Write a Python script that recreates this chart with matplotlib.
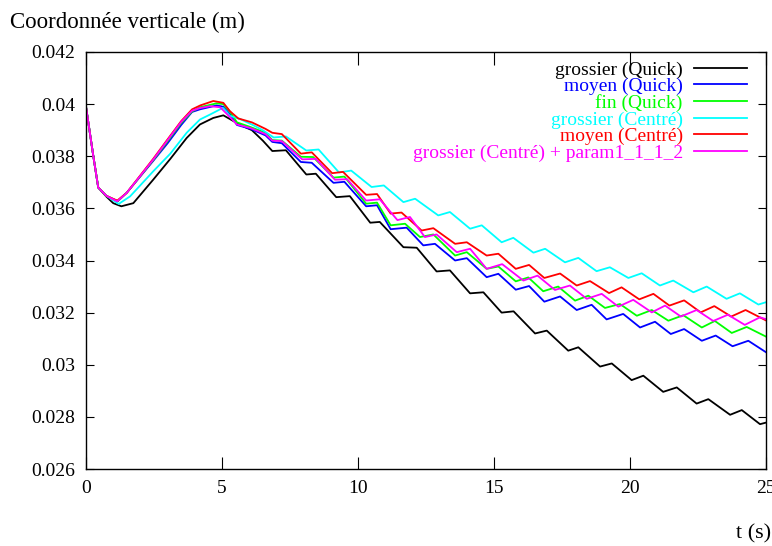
import matplotlib
matplotlib.use("Agg")
import matplotlib.pyplot as plt
from matplotlib.ticker import FormatStrFormatter

plt.rcParams['font.family'] = ['Liberation Serif', 'DejaVu Serif']

# temps (s) / coordonnee verticale (m)
t_black = [0, 0.27, 0.45, 0.75, 1.0, 1.3, 1.74, 2.47, 3.1, 3.7, 4.19, 4.68, 5.05, 5.42, 5.78,
           6.1, 6.5, 6.85, 7.35, 8.1, 8.45, 9.2, 9.7, 10.45, 10.8, 11.67, 12.16, 12.89, 13.38,
           14.12, 14.61, 15.28, 15.72, 16.51, 16.94, 17.73, 18.1, 18.9, 19.33, 20.06, 20.49,
           21.22, 21.72, 22.45, 22.88, 23.68, 24.11, 24.78, 25.0]
v_black = [0.0399, 0.0380, 0.0368, 0.03645, 0.0362, 0.03608, 0.0362, 0.0371, 0.0379, 0.0387,
           0.03922, 0.03947, 0.03957, 0.03935, 0.03915, 0.0390, 0.0386, 0.0382, 0.03823, 0.0373,
           0.03733, 0.03643, 0.03647, 0.03545, 0.03548, 0.03451, 0.03449, 0.03358, 0.03362,
           0.03274, 0.03278, 0.0320, 0.03205, 0.0312, 0.03131, 0.03054, 0.03067, 0.02993, 0.03005,
           0.02941, 0.02958, 0.02896, 0.02913, 0.02851, 0.02868, 0.02808, 0.02826, 0.02772, 0.02778]

t_blue = [0, 0.27, 0.45, 0.75, 1.16, 1.5, 2.47, 3.0, 3.5, 3.9, 4.19, 4.8, 5.05, 5.3, 5.55, 6.05,
          6.6, 6.85, 7.2, 7.9, 8.3, 9.1, 9.5, 10.3, 10.7, 11.2, 11.79, 12.4, 12.83, 13.57, 14.0,
          14.73, 15.16, 15.8, 16.29, 16.85, 17.43, 18.04, 18.59, 19.14, 19.75, 20.37, 20.92,
          21.5, 21.99, 22.64, 23.15, 23.77, 24.35, 25.0]
v_blue = [0.0399, 0.0380, 0.0368, 0.03648, 0.03627, 0.0366, 0.03782, 0.0385, 0.0392, 0.0397,
          0.0398, 0.03995, 0.0399, 0.0396, 0.0392, 0.03905, 0.0388, 0.03855, 0.0385, 0.03778,
          0.03775, 0.03698, 0.03702, 0.03608, 0.03612, 0.0352, 0.03526, 0.03458, 0.03464, 0.0340,
          0.03409, 0.03336, 0.03349, 0.03288, 0.03302, 0.03242, 0.03262, 0.0321, 0.0323, 0.03174,
          0.03195, 0.03143, 0.03165, 0.03118, 0.03137, 0.03092, 0.03112, 0.03071, 0.03092, 0.03048]

t_green = [0, 0.27, 0.45, 0.75, 1.16, 1.5, 2.47, 3.0, 3.5, 3.9, 4.19, 4.8, 5.05, 5.3, 5.55, 6.05,
           6.6, 6.85, 7.2, 7.9, 8.35, 9.1, 9.5, 10.3, 10.7, 11.2, 11.73, 12.28, 12.77, 13.57, 14.0,
           14.73, 15.16, 15.8, 16.26, 16.81, 17.36, 17.98, 18.47, 19.08, 19.63, 20.25, 20.8,
           21.41, 21.96, 22.64, 23.12, 23.74, 24.29, 25.0]
v_green = [0.0399, 0.0380, 0.0368, 0.03648, 0.03627, 0.0366, 0.03785, 0.03858, 0.03928, 0.03972,
           0.03988, 0.04003, 0.04, 0.0397, 0.0393, 0.03912, 0.0389, 0.03862, 0.0386, 0.03798,
           0.03797, 0.03718, 0.03722, 0.03618, 0.03622, 0.03535, 0.03541, 0.0349, 0.035, 0.03419,
           0.03432, 0.03368, 0.03377, 0.0332, 0.03335, 0.03282, 0.033, 0.03246, 0.03265, 0.03218,
           0.03233, 0.03188, 0.0321, 0.03169, 0.0319, 0.03143, 0.03168, 0.03122, 0.03145, 0.03108]

t_cyan = [0, 0.27, 0.45, 0.75, 1.2, 1.62, 2.47, 3.1, 3.7, 4.19, 4.56, 4.93, 5.05, 5.29, 5.66,
          6.15, 6.5, 6.9, 7.35, 8.1, 8.55, 9.3, 9.75, 10.5, 10.95, 11.67, 12.1, 12.95, 13.38,
          14.12, 14.55, 15.28, 15.71, 16.45, 16.88, 17.61, 18.1, 18.77, 19.26, 19.94, 20.43,
          21.1, 21.59, 22.33, 22.82, 23.55, 24.04, 24.72, 25.0]
v_cyan = [0.0399, 0.0380, 0.0368, 0.03648, 0.03617, 0.03646, 0.03742, 0.0381, 0.0389, 0.03941,
          0.0396, 0.0398, 0.03985, 0.03955, 0.03943, 0.03919, 0.039, 0.03872, 0.03876, 0.03822,
          0.03826, 0.03738, 0.03745, 0.03682, 0.03688, 0.03624, 0.03637, 0.03573, 0.03586,
          0.03522, 0.03535, 0.0347, 0.03487, 0.0343, 0.03445, 0.03393, 0.0341, 0.03359, 0.03374,
          0.03333, 0.03351, 0.03304, 0.03323, 0.03278, 0.033, 0.03253, 0.03274, 0.03231, 0.0324]

t_red = [0, 0.27, 0.45, 0.75, 1.15, 1.5, 2.47, 3.0, 3.5, 3.9, 4.2, 4.68, 5.05, 5.29, 5.6, 6.1,
         6.6, 6.85, 7.2, 7.9, 8.3, 9.05, 9.45, 10.3, 10.7, 11.2, 11.6, 12.34, 12.77, 13.57, 14.0,
         14.73, 15.16, 15.8, 16.29, 16.85, 17.43, 18.04, 18.53, 19.23, 19.69, 20.34, 20.86,
         21.45, 21.99, 22.6, 23.1, 23.72, 24.25, 25.0]
v_red = [0.0399, 0.0380, 0.0368, 0.03648, 0.0363, 0.0366, 0.0379, 0.03865, 0.03935, 0.0398,
         0.03995, 0.04012, 0.04005, 0.03973, 0.03945, 0.0393, 0.03905, 0.0389, 0.03885, 0.0381,
         0.03815, 0.03735, 0.0374, 0.03652, 0.03655, 0.0358, 0.03584, 0.03515, 0.03524, 0.03464,
         0.0347, 0.03419, 0.03426, 0.03368, 0.03383, 0.03333, 0.0335, 0.03304, 0.03321, 0.03275,
         0.03297, 0.03251, 0.03272, 0.03227, 0.03247, 0.03201, 0.03225, 0.03185, 0.0321, 0.0317]

t_mag = [0, 0.27, 0.45, 0.75, 1.15, 1.5, 2.47, 3.0, 3.5, 3.9, 4.19, 4.56, 4.93, 5.2, 5.55, 6.05,
         6.6, 6.85, 7.2, 7.95, 8.45, 9.15, 9.6, 10.3, 10.8, 11.45, 11.91, 12.46, 12.89, 13.63,
         14.12, 14.73, 15.3, 16.08, 16.6, 17.24, 17.79, 18.41, 18.96, 19.57, 20.12, 20.8, 21.29,
         21.87, 22.45, 23.06, 23.6, 24.22, 24.78, 25.0]
v_mag = [0.0399, 0.0380, 0.0368, 0.03648, 0.03627, 0.0366, 0.03787, 0.03862, 0.03932, 0.03975,
         0.03985, 0.03992, 0.03988, 0.0396, 0.03922, 0.03908, 0.03885, 0.0386, 0.03858, 0.03788,
         0.0379, 0.0371, 0.03712, 0.0363, 0.03635, 0.03555, 0.03567, 0.0349, 0.035, 0.03432,
         0.03445, 0.03368, 0.03386, 0.03323, 0.03342, 0.03287, 0.03304, 0.03253, 0.03272,
         0.03223, 0.03249, 0.03201, 0.03227, 0.03185, 0.0321, 0.03168, 0.03192, 0.03153,
         0.03182, 0.03175]

labels = ["grossier (Quick)", "moyen (Quick)", "fin (Quick)",
          "grossier (Centré)", "moyen (Centré)", "grossier (Centré) + param1_1_1_2"]
colors = ["#000000", "#0000ff", "#00ff00", "#00ffff", "#ff0000", "#ff00ff"]
series = [(t_black, v_black), (t_blue, v_blue), (t_green, v_green),
          (t_cyan, v_cyan), (t_red, v_red), (t_mag, v_mag)]

xticks = [0, 5, 10, 15, 20, 25]
yticks = [0.026, 0.028, 0.030, 0.032, 0.034, 0.036, 0.038, 0.040, 0.042]

fig = plt.figure(figsize=(7.72, 5.46), dpi=100)
ax = fig.add_axes([86/772, 1 - 469/546, 680/772, 417/546])

for (t, v), c, lab in zip(series, colors, labels):
    ax.plot(t, v, color=c, lw=1.3, label=lab)

ax.set_xlim(0, 25)
ax.set_ylim(0.026, 0.042)
ax.set_xticks(xticks)
ax.set_yticks(yticks)
ax.yaxis.set_major_formatter(FormatStrFormatter('%g'))
ax.tick_params(axis='both', direction='in', top=True, right=True, width=0.8,
               labelsize=14, colors='black')
ax.tick_params(axis='x', length=9, pad=8)
ax.tick_params(axis='y', length=6, pad=8)
for s in ax.spines.values():
    s.set_linewidth(1.0)

leg = ax.legend(loc='upper right', bbox_to_anchor=(0.972, 0.978), frameon=False,
                markerfirst=False, fontsize=14, labelcolor='linecolor',
                handlelength=2.7, handletextpad=0.6, labelspacing=-0.06,
                borderpad=0, borderaxespad=0)

fig.text(10/772, 1 - 28/546, "Coordonnée verticale (m)", ha='left', va='baseline', fontsize=16.5)
fig.text(771/772, 1 - 538/546, "t (s)", ha='right', va='baseline', fontsize=16)

fig.savefig("out.png", dpi=100)
